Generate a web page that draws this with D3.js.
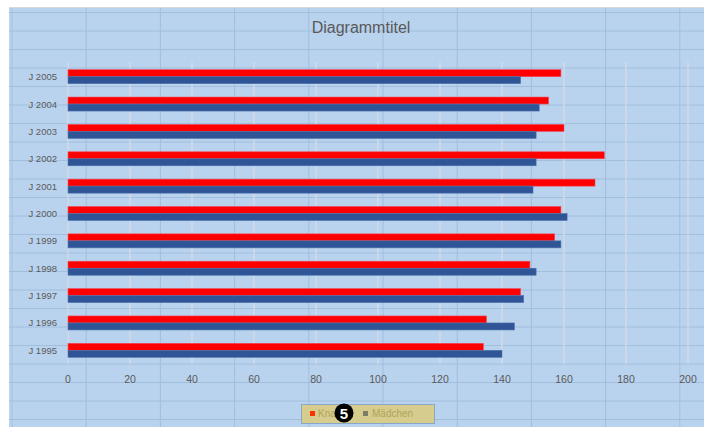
<!DOCTYPE html>
<html><head><meta charset="utf-8">
<script src="https://cdn.jsdelivr.net/npm/d3@7"></script>
<style>body{margin:0;background:#fff}svg{display:block}</style>
</head><body>
<script>
const categories = ["J 1995","J 1996","J 1997","J 1998","J 1999","J 2000","J 2001","J 2002","J 2003","J 2004","J 2005"];
const knaben = [134,135,146,149,157,159,170,173,160,155,159];
const maedchen = [140,144,147,151,159,161,150,151,151,152,146];
const xTicks = [0,20,40,60,80,100,120,140,160,180,200];
const seriesNames = ["Knaben","Mädchen"];

const W=704,H=427;
const svg=d3.select("body").append("svg").attr("width",W).attr("height",H);
const font="'Liberation Sans', Arial, sans-serif";

// spreadsheet background
svg.append("rect").attr("x",9).attr("y",7).attr("width",W-9).attr("height",H-7).attr("fill","#b9d3ee");
svg.append("line").attr("x1",9).attr("x2",W).attr("y1",7.5).attr("y2",7.5).attr("stroke","#d8d8d8");
const cols=d3.range(10).map(i=>12+i*74.2);
const rows=d3.range(23).map(i=>12.5+i*18.5);
svg.append("g").selectAll("line").data(cols).join("line")
  .attr("x1",d=>d).attr("x2",d=>d).attr("y1",8).attr("y2",H)
  .attr("stroke","#a2bedd").attr("stroke-width",1);
svg.append("g").selectAll("line").data(rows).join("line")
  .attr("x1",9).attr("x2",W).attr("y1",d=>d).attr("y2",d=>d)
  .attr("stroke","#a2bedd").attr("stroke-width",1);

// title
svg.append("text").attr("x",361).attr("y",33).attr("text-anchor","middle")
  .attr("font-family",font).attr("font-size",16).attr("fill","#595959").text("Diagrammtitel");

const x=d3.scaleLinear().domain([0,200]).range([68,688]);
const y=d3.scaleBand().domain(categories.slice().reverse()).range([63,364]);
const gh=14;

// gridlines
svg.append("g").selectAll("line").data(xTicks.slice(1)).join("line")
  .attr("x1",d=>x(d)).attr("x2",d=>x(d)).attr("y1",62).attr("y2",364)
  .attr("stroke","#d9dde3").attr("stroke-width",1.5).attr("opacity",0.85);
svg.append("line").attr("x1",x(0)).attr("x2",x(0)).attr("y1",62).attr("y2",364)
  .attr("stroke","#d9dde3").attr("stroke-width",1);

// bars
const g=svg.append("g");
categories.forEach((c,i)=>{
  const cy=y(c)+y.bandwidth()/2;
  g.append("rect").attr("x",x(0)).attr("y",cy-gh/2).attr("width",x(knaben[i])-x(0)).attr("height",gh/2)
    .attr("fill","#ff0000").attr("stroke","#f04a5a").attr("stroke-width",0.6);
  g.append("rect").attr("x",x(0)).attr("y",cy).attr("width",x(maedchen[i])-x(0)).attr("height",gh/2)
    .attr("fill","#2f5597").attr("stroke","#4d72ad").attr("stroke-width",0.6);
});

// category labels
svg.append("g").selectAll("text").data(categories).join("text")
  .attr("x",57).attr("y",d=>y(d)+y.bandwidth()/2+3.5).attr("text-anchor","end")
  .attr("font-family",font).attr("font-size",9.5).attr("fill","#595959").text(d=>d);

// x tick labels
svg.append("g").selectAll("text").data(xTicks).join("text")
  .attr("x",d=>x(d)).attr("y",383).attr("text-anchor","middle")
  .attr("font-family",font).attr("font-size",10.5).attr("fill","#595959").text(d=>d);

// legend
const lg=svg.append("g");
lg.append("rect").attr("x",301.5).attr("y",404.5).attr("width",133).attr("height",19)
  .attr("fill","#d5cc8e").attr("stroke","#8aa6c4").attr("stroke-width",1);
lg.append("rect").attr("x",310).attr("y",411).attr("width",5).attr("height",5).attr("fill","#ff3300");
lg.append("text").attr("x",318).attr("y",417).attr("font-family",font).attr("font-size",10).attr("fill","#b3a35a").text(seriesNames[0]);
lg.append("rect").attr("x",363).attr("y",411).attr("width",5).attr("height",5).attr("fill","#7f7d68");
lg.append("text").attr("x",372).attr("y",417).attr("font-family",font).attr("font-size",10).attr("fill","#b3a35a").text(seriesNames[1]);
// annotation marker
lg.append("circle").attr("cx",344).attr("cy",413).attr("r",9.5).attr("fill","#000");
lg.append("text").attr("x",344).attr("y",418.5).attr("text-anchor","middle").attr("font-family",font)
  .attr("font-weight","bold").attr("font-size",15).attr("fill","#fff").text("5");
</script>
</body></html>
